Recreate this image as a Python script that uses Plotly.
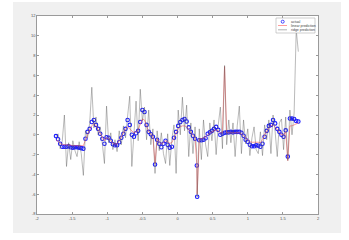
import plotly.graph_objects as go

x_vals = [-1.73,-1.70,-1.67,-1.64,-1.61,-1.58,-1.55,-1.52,-1.49,-1.46,-1.43,-1.40,-1.37,-1.34,-1.31,-1.28,-1.25,-1.22,-1.19,-1.16,
          -1.13,-1.10,-1.07,-1.04,-1.01,-0.98,-0.95,-0.92,-0.89,-0.86,-0.83,-0.80,-0.77,-0.74,-0.71,-0.68,-0.65,-0.62,-0.59,-0.56,
          -0.53,-0.50,-0.47,-0.44,-0.41,-0.38,-0.35,-0.32,-0.29,-0.26,-0.23,-0.20,-0.17,-0.14,-0.11,-0.08,-0.05,-0.02,0.01,0.04,
          0.07,0.10,0.13,0.16,0.19,0.22,0.25,0.275,0.28,0.31,0.34,0.37,0.40,0.43,0.46,0.49,0.52,0.55,0.58,0.61,
          0.64,0.67,0.70,0.73,0.76,0.79,0.82,0.85,0.88,0.91,0.94,0.97,1.00,1.03,1.06,1.09,1.12,1.15,1.18,1.21,
          1.24,1.27,1.30,1.33,1.36,1.39,1.42,1.45,1.48,1.51,1.54,1.57,1.60,1.63,1.66,1.69,1.72]

actual = [-0.13,-0.45,-0.9,-1.2,-1.2,-1.2,-1.15,-1.25,-1.3,-1.25,-1.25,-1.3,-1.35,-1.4,-0.4,0.3,0.6,1.3,1.5,1.0,
          0.6,0.1,-0.4,-0.9,-0.25,-0.3,-0.6,-0.95,-1.05,-1.05,-0.75,-0.3,0.1,0.6,1.5,1.0,0.0,-0.2,0.15,0.4,
          1.3,2.5,2.3,1.0,0.3,0.05,-0.2,-3.0,-0.5,-0.9,-1.25,-0.9,-0.6,-1.0,-1.3,-1.2,-0.3,0.3,0.9,1.3,
          1.5,1.6,1.35,0.75,0.3,-0.1,-0.4,-3.1,-6.26,-0.55,-0.55,-0.5,-0.35,0.1,0.25,0.4,0.6,0.8,0.5,0.0,
          0.1,0.2,0.25,0.25,0.3,0.25,0.3,0.3,0.3,0.2,-0.1,-0.5,-0.7,-1.0,-1.15,-1.15,-1.05,-1.1,-1.2,-0.9,
          -0.2,0.4,0.9,1.0,1.5,1.15,0.6,0.3,0.0,-0.2,0.45,-2.2,1.65,1.65,1.6,1.4,1.35]

linear_pred = [-0.5,-0.7,-0.9,-1.0,-1.0,-1.0,-1.0,-1.05,-1.1,-1.1,-1.1,-1.15,-1.15,-1.1,-0.5,0.1,0.5,0.9,1.15,0.9,
               0.5,0.1,-0.3,-0.6,-0.3,-0.4,-0.6,-0.85,-0.95,-0.9,-0.6,-0.2,0.2,0.6,0.8,0.6,0.3,0.2,0.3,0.5,
               1.1,1.6,1.5,0.8,0.3,0.1,-0.2,-2.9,-0.4,-0.7,-0.9,-0.8,-0.6,-0.7,-0.85,-0.8,-0.3,0.2,0.6,0.8,
               0.9,0.9,0.8,0.5,0.2,-0.1,-0.3,-3.0,-6.0,-0.4,-0.4,-0.3,-0.2,0.0,0.2,0.3,0.4,0.5,0.4,0.2,
               0.2,6.9,0.2,0.2,0.25,0.2,0.25,0.2,0.2,0.1,-0.1,-0.4,-0.6,-0.7,-0.75,-0.75,-0.7,-0.75,-0.8,-0.5,
               0.0,0.4,0.7,0.9,1.0,0.8,0.5,0.2,0.0,0.0,0.3,-2.6,0.9,0.9,1.0,1.1,1.2]

ridge_pred = [-0.2,0.1,-1.4,-0.6,2.0,-3.2,-0.8,-2.5,-0.6,-1.6,-2.2,-0.7,-1.9,-4.1,0.4,-0.3,1.2,4.8,0.7,1.8,
              0.0,0.8,-0.9,-2.9,2.9,-0.8,0.2,-1.5,-0.5,-1.7,0.4,-1.0,0.9,-0.3,1.9,3.9,-3.2,0.8,3.4,-0.6,
              4.6,1.4,2.8,-0.5,2.5,-1.0,0.6,-3.9,0.4,-1.6,0.2,-1.9,-2.9,0.1,-3.1,-0.4,1.0,-3.9,2.5,0.0,
              3.8,0.4,3.0,-2.2,1.2,-1.9,0.8,-2.0,-6.3,0.6,-2.5,1.5,-1.0,-2.2,1.2,-0.6,1.5,-2.0,1.0,2.8,
              -1.4,7.0,-1.0,1.5,-0.8,1.2,-2.2,0.9,2.9,-1.9,1.5,-0.9,0.6,-2.1,-0.3,0.8,-1.5,-1.9,0.3,-2.1,
              1.0,-0.5,1.5,-1.9,2.0,0.3,-2.2,1.2,1.6,-1.5,1.8,-2.6,2.5,0.0,2.2,10.6,8.4]

x_ticks = [-2, -1.5, -1, -0.5, 0, 0.5, 1, 1.5, 2]
y_ticks = [-8, -6, -4, -2, 0, 2, 4, 6, 8, 10, 12]
legend_names = ["actual", "linear prediction", "ridge prediction"]

RED = "rgba(255,90,90,0.6)"
GRAY = "rgba(90,90,90,0.6)"

fig = go.Figure()
fig.add_trace(go.Scatter(x=x_vals, y=actual, mode="markers", name=legend_names[0],
                         marker=dict(symbol="circle-open", size=3.5, color="#1a1aff", line=dict(width=1.1))))
fig.add_trace(go.Scatter(x=x_vals, y=linear_pred, mode="lines", name=legend_names[1],
                         line=dict(color=RED, width=1)))
fig.add_trace(go.Scatter(x=x_vals, y=ridge_pred, mode="lines", name=legend_names[2],
                         line=dict(color=GRAY, width=0.7)))

L, R, T, B = 37, 31, 16, 26
W, H = 349, 240
pw, ph = W - L - R, H - T - B

def px(xp):
    return (xp - L) / pw

def py(yp):
    return (H - B - yp) / ph

shapes = [
    dict(type="rect", xref="paper", yref="paper", x0=px(13), x1=px(341), y0=py(233), y1=py(2),
         fillcolor="#f0f0f0", line=dict(width=0), layer="below"),
    dict(type="rect", xref="paper", yref="paper", x0=0, x1=1, y0=0, y1=1,
         fillcolor="white", line=dict(width=0), layer="below"),
    # legend box
    dict(type="rect", xref="paper", yref="paper", x0=px(276), x1=px(315), y0=py(33), y1=py(18),
         fillcolor="white", line=dict(color="#b0b0b0", width=0.6), layer="above"),
    dict(type="circle", xref="paper", yref="paper", x0=px(281.2), x1=px(284.2), y0=py(23.2), y1=py(20.2),
         line=dict(color="#1a1aff", width=0.8), layer="above"),
    dict(type="line", xref="paper", yref="paper", x0=px(278), x1=px(287), y0=py(25.5), y1=py(25.5),
         line=dict(color=RED, width=1), layer="above"),
    dict(type="line", xref="paper", yref="paper", x0=px(278), x1=px(287), y0=py(29.8), y1=py(29.8),
         line=dict(color=GRAY, width=0.8), layer="above"),
]
annotations = []
for name, yy in zip(legend_names, [21.7, 25.5, 29.8]):
    annotations.append(dict(text=name, xref="paper", yref="paper", x=px(289), y=py(yy),
                            xanchor="left", yanchor="middle", showarrow=False,
                            font=dict(size=3.5, color="#404040", family="Liberation Sans")))

fig.update_layout(
    width=W, height=H,
    margin=dict(l=L, r=R, t=T, b=B, pad=0),
    paper_bgcolor="white", plot_bgcolor="white",
    showlegend=False,
    shapes=shapes, annotations=annotations,
    font=dict(family="Liberation Sans", size=4, color="#262626"),
)
fig.update_xaxes(range=[-2, 2], tickvals=x_ticks, ticktext=[str(t) for t in x_ticks],
                 showgrid=False, zeroline=False, showline=True, linecolor="#9a9a9a", linewidth=0.6,
                 mirror="ticks", ticks="inside", ticklen=2, tickcolor="#9a9a9a", tickwidth=0.6,
                 tickfont=dict(size=4, color="#505050"))
fig.update_yaxes(range=[-8, 12], tickvals=y_ticks, ticktext=[str(t) for t in y_ticks],
                 showgrid=False, zeroline=False, showline=True, linecolor="#9a9a9a", linewidth=0.6,
                 mirror="ticks", ticks="inside", ticklen=2, tickcolor="#9a9a9a", tickwidth=0.6,
                 tickfont=dict(size=4, color="#505050"))

fig.write_html("out.html")
